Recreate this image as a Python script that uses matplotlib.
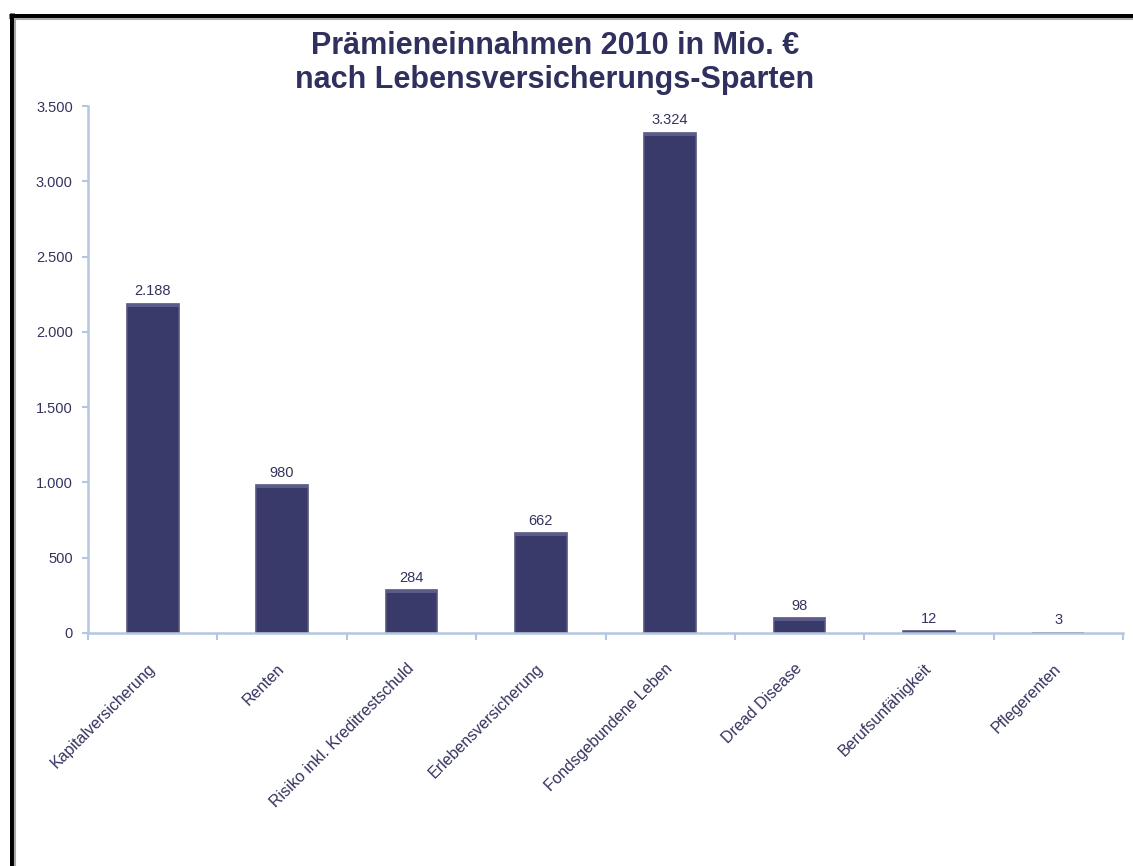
"""
Prämieneinnahmen 2010 nach Lebensversicherungs-Sparten
"""
import matplotlib
matplotlib.use("Agg")
import matplotlib.pyplot as plt
from matplotlib.lines import Line2D
from matplotlib.ticker import FuncFormatter

sparten = ["Kapitalversicherung",
           "Renten",
           "Risiko inkl. Kreditrestschuld",
           "Erlebensversicherung",
           "Fondsgebundene Leben",
           "Dread Disease",
           "Berufsunfähigkeit",
           "Pflegerenten"]
praemien = [2188, 980, 284, 662, 3324, 98, 12, 3]

def de_fmt(v, pos=None):
    return "{:,.0f}".format(v).replace(",", ".")

plt.rcParams["font.family"] = ["Liberation Sans", "DejaVu Sans"]
text_col = "#33335f"
bar_col = "#3a3a6a"
axis_col = "#b4c6e0"

fig = plt.figure(figsize=(11.33, 8.66), dpi=100)
ax = fig.add_axes([88 / 1133, 1 - 633 / 866, (1123 - 88) / 1133, (633 - 106) / 866])

x = list(range(len(sparten)))
bars = ax.bar(x, praemien, width=0.4, color=bar_col, edgecolor="#56567f", linewidth=1.2, zorder=2)
# heller Streifen oben (Glanz-Effekt)
for b, v in zip(bars, praemien):
    if v > 50:
        ax.bar(b.get_x() + b.get_width() / 2, 20, bottom=v - 20, width=0.4,
               color="#5c5c8c", linewidth=0, zorder=3)

for xi, v in zip(x, praemien):
    ax.text(xi, v + 35, de_fmt(v), ha="center", va="bottom", fontsize=10.5, color=text_col)

ax.set_xlim(-0.5, len(sparten) - 0.5)
ax.set_ylim(0, 3500)
ax.set_yticks(range(0, 3501, 500))
ax.yaxis.set_major_formatter(FuncFormatter(de_fmt))

ax.set_xticks([i - 0.5 for i in range(len(sparten) + 1)])
ax.set_xticklabels([])
ax.set_xticks(x, minor=True)
ax.set_xticklabels(sparten, minor=True, rotation=45, ha="right", va="center",
                   rotation_mode="anchor", fontsize=11.5, color=text_col)
ax.tick_params(axis="x", which="minor", length=0, pad=24)
ax.tick_params(axis="x", which="major", length=5, color=axis_col, width=1.5)
ax.tick_params(axis="y", length=4, color=axis_col, width=1.5, labelsize=10.5,
               labelcolor=text_col, pad=7)

for s in ["top", "right"]:
    ax.spines[s].set_visible(False)
for s in ["left", "bottom"]:
    ax.spines[s].set_color(axis_col)
    ax.spines[s].set_linewidth(1.8)

fig.text(555 / 1133, 1 - 63 / 866, "Prämieneinnahmen 2010 in Mio. €\nnach Lebensversicherungs-Sparten",
         ha="center", va="center", fontsize=22, fontweight="bold", color="#30305f",
         linespacing=1.2)

# Rahmen (schwarz + grau)
fig.add_artist(Line2D([11.5 / 1133, 11.5 / 1133], [0, 1 - 13 / 866], color="black",
                      linewidth=3.6, transform=fig.transFigure, solid_capstyle="butt"))
fig.add_artist(Line2D([9 / 1133, 1], [1 - 15.5 / 866, 1 - 15.5 / 866], color="black",
                      linewidth=3.6, transform=fig.transFigure, solid_capstyle="butt"))
fig.add_artist(Line2D([15 / 1133, 15 / 1133], [0, 1 - 18 / 866], color="#a8a8a8",
                      linewidth=1.5, transform=fig.transFigure, solid_capstyle="butt"))
fig.add_artist(Line2D([14 / 1133, 1], [1 - 19 / 866, 1 - 19 / 866], color="#a8a8a8",
                      linewidth=1.5, transform=fig.transFigure, solid_capstyle="butt"))

fig.savefig("out.png", dpi=100)
